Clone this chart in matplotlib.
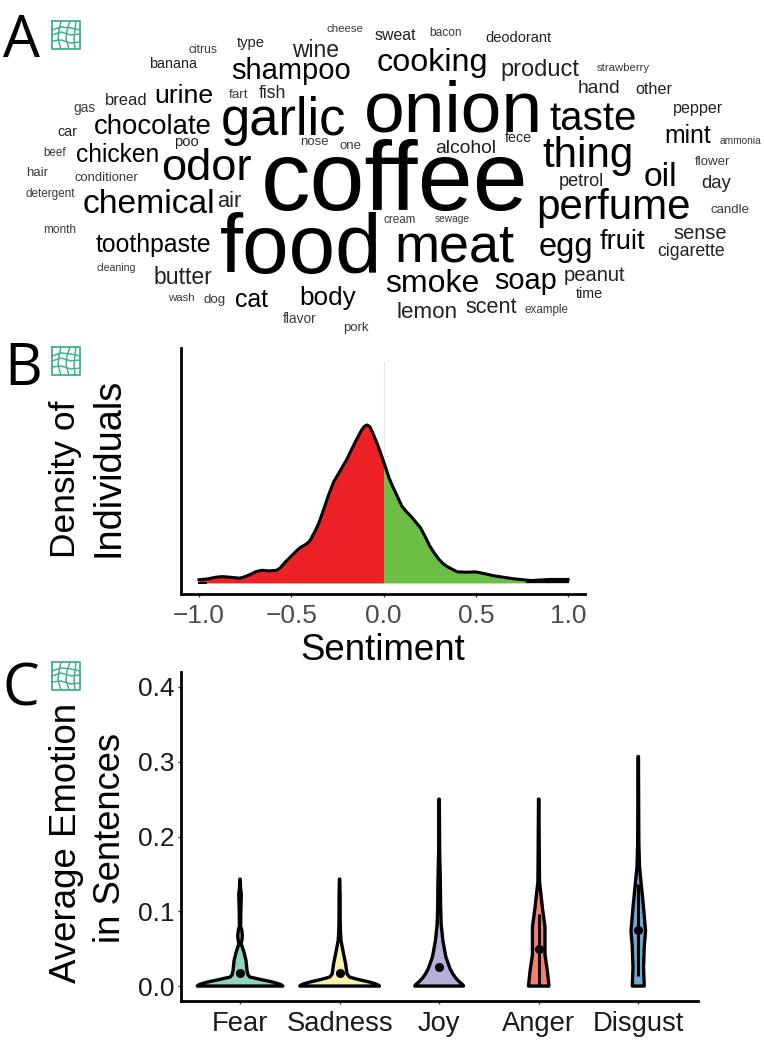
import matplotlib
matplotlib.use('Agg')
import matplotlib.pyplot as plt
from matplotlib.textpath import TextPath
from matplotlib.font_manager import FontProperties

W, H = 764, 1048
plt.rcParams['font.family'] = ['Liberation Sans', 'DejaVu Sans']

# word cloud: word, left px, right px, baseline px
words = [
    ('coffee', 265, 524, 210), ('food', 221, 377, 273), ('onion', 367, 538, 131),
    ('garlic', 223, 345, 135), ('meat', 398, 514, 262), ('perfume', 539, 689, 219),
    ('odor', 163, 251, 180), ('thing', 543, 631, 167), ('taste', 550, 635, 130),
    ('chemical', 84, 213, 213), ('shampoo', 232, 350, 79), ('cooking', 378, 486, 71),
    ('smoke', 386, 478, 292), ('soap', 495, 556, 289), ('egg', 540, 591, 256),
    ('chocolate', 95, 211, 134), ('toothpaste', 96, 210, 252), ('chicken', 77, 158, 162),
    ('urine', 156, 212, 103), ('butter', 155, 212, 284), ('product', 502, 579, 76),
    ('oil', 645, 675, 186), ('fruit', 600, 645, 249), ('cat', 236, 268, 307),
    ('body', 301, 356, 305), ('lemon', 398, 456, 318), ('scent', 466, 517, 313),
    ('peanut', 565, 625, 281), ('mint', 666, 711, 143), ('wine', 292, 338, 57),
    ('sense', 674, 726, 239), ('cigarette', 658, 724, 256), ('alcohol', 436, 495, 153),
    ('hand', 579, 619, 93), ('air', 218, 241, 207), ('fish', 259, 285, 98),
    ('bread', 106, 146, 105), ('day', 702, 731, 188), ('other', 636, 672, 94),
    ('pepper', 674, 723, 113), ('petrol', 560, 603, 186), ('sweat', 375, 416, 40),
    ('deodorant', 486, 551, 42), ('banana', 150, 197, 68), ('type', 237, 264, 47),
    ('fart', 229, 248, 98), ('gas', 74, 95, 112), ('car', 58, 77, 136),
    ('poo', 175, 198, 146), ('nose', 301, 328, 145), ('one', 340, 361, 149),
    ('beef', 44, 66, 156), ('hair', 27, 48, 176), ('conditioner', 75, 138, 181),
    ('detergent', 26, 75, 197), ('month', 44, 75, 233), ('cleaning', 97, 135, 271),
    ('wash', 168, 194, 301), ('dog', 204, 225, 303), ('flavor', 283, 316, 323),
    ('pork', 344, 369, 331), ('cheese', 327, 363, 32), ('citrus', 189, 217, 53),
    ('bacon', 430, 461, 36), ('strawberry', 597, 650, 71), ('ammonia', 720, 761, 144),
    ('fece', 505, 531, 142), ('flower', 695, 730, 165), ('candle', 711, 749, 213),
    ('cream', 384, 415, 223), ('sewage', 435, 469, 222), ('time', 576, 602, 298),
    ('example', 525, 568, 313),
]

# density of sentiment
sent_x = [-1.0, -0.95, -0.91, -0.875, -0.83, -0.78, -0.75, -0.72, -0.69, -0.66, -0.62, -0.58, -0.56,
          -0.53, -0.5, -0.47, -0.45, -0.42, -0.4, -0.37, -0.35, -0.32, -0.3, -0.27, -0.25, -0.2, -0.15,
          -0.12, -0.105, -0.09, -0.075, -0.06, -0.03, 0.0, 0.03, 0.05, 0.08, 0.1, 0.125, 0.15, 0.2, 0.225, 0.25,
          0.275, 0.3, 0.325, 0.35, 0.4, 0.45, 0.5, 0.55, 0.6, 0.7, 0.8, 0.9, 1.0]
sent_y = [0.02, 0.026, 0.036, 0.04, 0.036, 0.03, 0.04, 0.055, 0.072, 0.08, 0.076, 0.08, 0.095,
          0.135, 0.17, 0.205, 0.225, 0.245, 0.265, 0.33, 0.38, 0.48, 0.55, 0.64, 0.68, 0.78, 0.90,
          0.965, 0.99, 1.0, 0.99, 0.955, 0.87, 0.77, 0.665, 0.61, 0.535, 0.485, 0.45, 0.42, 0.35, 0.295, 0.235,
          0.19, 0.15, 0.12, 0.10, 0.07, 0.068, 0.07, 0.058, 0.045, 0.027, 0.015, 0.022, 0.022]
sent_ticks = [-1.0, -0.5, 0.0, 0.5, 1.0]
sent_labels = ['\u22121.0', '\u22120.5', '0.0', '0.5', '1.0']

# violins
emotions = ['Fear', 'Sadness', 'Joy', 'Anger', 'Disgust']
emo_colors = ['#8ED3C4', '#F8F3A8', '#B5B0D8', '#F5806F', '#6FAAD6']
emo_ticks = [0.0, 0.1, 0.2, 0.3, 0.4]
emo_medians = [0.017, 0.017, 0.025, 0.049, 0.075]
emo_levels = [
    [0, 0.002, 0.005, 0.009, 0.012, 0.015, 0.021, 0.034, 0.045, 0.0564, 0.0625, 0.0675, 0.075, 0.08, 0.1, 0.118, 0.123, 0.13, 0.143],
    [0, 0.002, 0.005, 0.009, 0.012, 0.016, 0.03, 0.043, 0.061, 0.075, 0.085, 0.12, 0.143],
    [0, 0.002, 0.006, 0.011, 0.0164, 0.023, 0.039, 0.061, 0.083, 0.105, 0.14, 0.18, 0.25],
    [0, 0.02, 0.042, 0.06, 0.079, 0.105, 0.14, 0.17, 0.25],
    [0, 0.025, 0.052, 0.074, 0.105, 0.132, 0.159, 0.19, 0.24, 0.307],
]
emo_widths = [
    [0.43, 0.41, 0.34, 0.2, 0.1, 0.08, 0.07, 0.06, 0.04, 0.012, 0.02, 0.023, 0.017, 0.006, 0.008, 0.012, 0.013, 0.006, 0.002],
    [0.40, 0.38, 0.31, 0.18, 0.1, 0.075, 0.06, 0.04, 0.014, 0.008, 0.006, 0.005, 0.002],
    [0.245, 0.235, 0.20, 0.165, 0.137, 0.11, 0.067, 0.037, 0.02, 0.015, 0.012, 0.005, 0.002],
    [0.103, 0.087, 0.063, 0.063, 0.063, 0.037, 0.008, 0.006, 0.002],
    [0.06, 0.053, 0.06, 0.073, 0.053, 0.033, 0.013, 0.006, 0.004, 0.002],
]
emo_iqr = [None, None, None, (0.0, 0.096), (0.014, 0.136)]


def px_axes(left, top, right, bottom):
    return fig.add_axes([left / W, 1 - bottom / H, (right - left) / W, (bottom - top) / H])


def icon(x0, y0):
    # warped grid badge next to each panel letter
    col = '#3FB28F'
    s = 28
    bg.plot([x0, x0 + s, x0 + s, x0, x0], [y0, y0, y0 + s, y0 + s, y0], color=col, lw=1.3)
    bg.plot([x0, x0 + 9, x0 + 19, x0 + s], [y0 + 9, y0 + 6, y0 + 7, y0 + 9], color=col, lw=1.1)
    bg.plot([x0, x0 + 9, x0 + 19, x0 + s], [y0 + 14, y0 + 11, y0 + 14, y0 + 13], color=col, lw=1.1)
    bg.plot([x0, x0 + 9, x0 + 19, x0 + s], [y0 + 20, y0 + 19, y0 + 22, y0 + 21], color=col, lw=1.1)
    bg.plot([x0 + 9, x0 + 7, x0 + 6, x0 + 9], [y0, y0 + 9, y0 + 18, y0 + s], color=col, lw=1.1)
    bg.plot([x0 + 18, x0 + 15, x0 + 14, x0 + 17], [y0, y0 + 9, y0 + 18, y0 + s], color=col, lw=1.1)
    bg.plot([x0 + 24, x0 + 23, x0 + 22, x0 + 23], [y0, y0 + 9, y0 + 18, y0 + s], color=col, lw=1.1)


fig = plt.figure(figsize=(W / 100, H / 100), dpi=100)

# overlay in pixel coordinates for the cloud, letters and icons
bg = fig.add_axes([0, 0, 1, 1])
bg.set_xlim(0, W)
bg.set_ylim(H, 0)
bg.axis('off')

fp = FontProperties(family='Liberation Sans')
for word, x0, x1, base in words:
    tp = TextPath((0, 0), word, size=10, prop=fp)
    bb = tp.get_extents()
    size_px = 10 * (x1 - x0) / bb.width
    grey = '#000000' if size_px > 24 else '#222222' if size_px > 14 else '#3a3a3a'
    bg.text(x0 - bb.x0 * size_px / 10, base, word, fontsize=size_px * 0.72, color=grey,
            ha='left', va='baseline')

for letter, x, y in [('A', 3, 57), ('B', 4, 385), ('C', 3, 706)]:
    bg.text(x, y, letter, fontsize=42, family='Open Sans', color='black', ha='left', va='baseline')
icon(52, 21)
icon(52, 347)
icon(52, 662)

# panel B
ax = px_axes(181, 348, 585, 594)
ax.patch.set_alpha(0)
ax.set_xlim(-1.0976, 1.092)
ax.set_ylim(-0.07, 1.487)
neg_x = [v for v in sent_x if v <= 0]
neg_y = sent_y[:len(neg_x)]
pos_x = [v for v in sent_x if v >= 0]
pos_y = sent_y[len(neg_x) - 1:]
ax.fill_between(neg_x, 0, neg_y, color='#EC2227', lw=0)
ax.fill_between(pos_x, 0, pos_y, color='#6DBE45', lw=0)
ax.plot([0, 0], [0.77, 1.4], color='#E3EBDD', lw=0.8, zorder=1)
ax.plot([-1.0, -0.96], [0, 0], color='black', lw=1.4, zorder=2)
ax.plot([0.78, 1.0], [0.005, 0.005], color='black', lw=1.4, zorder=2)
ax.plot(sent_x, sent_y, color='black', lw=2.2, solid_joinstyle='round', zorder=4)
for side in ['top', 'right']:
    ax.spines[side].set_visible(False)
for side in ['left', 'bottom']:
    ax.spines[side].set_linewidth(2)
ax.set_yticks([])
ax.set_xticks(sent_ticks)
ax.set_xticklabels(sent_labels, fontsize=19, color='#4D4D4D')
ax.tick_params(axis='x', length=2.5, width=1, color='#333333', pad=5)
ax.set_xlabel('Sentiment', fontsize=26.4, labelpad=3)
bg.text(66, 558, 'Density of', fontsize=25.5, rotation=90, ha='center', va='bottom')
bg.text(109, 557, 'Individuals', fontsize=27.4, rotation=90, ha='center', va='bottom')

# panel C
ax2 = px_axes(181, 672, 698, 1001)
ax2.patch.set_alpha(0)
ax2.set_xlim(-0.593, 4.6)
ax2.set_ylim(-0.02, 0.42)
for i, name in enumerate(emotions):
    lev = emo_levels[i]
    wid = emo_widths[i]
    xs = [i - w for w in wid] + [i + w for w in wid[::-1]]
    ys = lev + lev[::-1]
    ax2.fill(xs, ys, facecolor=emo_colors[i], edgecolor='black', lw=2.4, joinstyle='round')
    if emo_iqr[i] is not None:
        ax2.plot([i, i], emo_iqr[i], color='black', lw=2.2, solid_capstyle='butt')
    ax2.plot(i, emo_medians[i], 'o', color='black', ms=5.5)
for side in ['top', 'right']:
    ax2.spines[side].set_visible(False)
for side in ['left', 'bottom']:
    ax2.spines[side].set_linewidth(2)
ax2.set_yticks(emo_ticks)
ax2.set_yticklabels(['%.1f' % v for v in emo_ticks], fontsize=19, color='#1a1a1a')
ax2.set_xticks(range(len(emotions)))
ax2.set_xticklabels(emotions, fontsize=19.7, color='#1a1a1a')
ax2.tick_params(axis='both', length=2.5, width=1, color='#333333', pad=2)
ax2.tick_params(axis='x', pad=5)
bg.text(67, 983, 'Average Emotion', fontsize=26.35, rotation=90, ha='center', va='bottom')
bg.text(110, 943, 'in Sentences', fontsize=26.2, rotation=90, ha='center', va='bottom')

fig.savefig('out.png', dpi=100)
